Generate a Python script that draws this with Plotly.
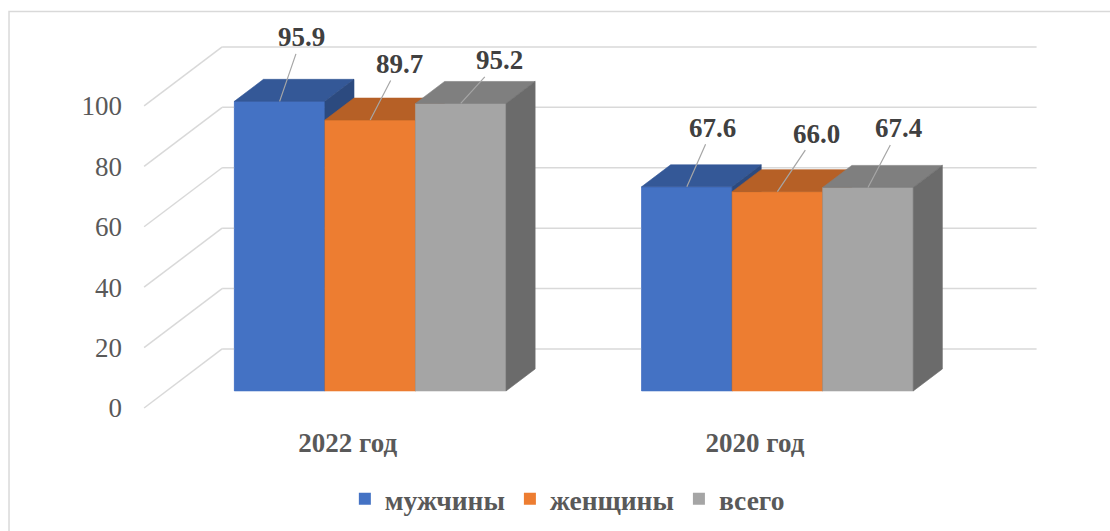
import plotly.graph_objects as go

# ---- data ----
categories = ["2022 год", "2020 год"]
series_names = ["мужчины", "женщины", "всего"]
men = [95.9, 67.6]
women = [89.7, 66.0]
total = [95.2, 67.4]
y_ticks = [0, 20, 40, 60, 80, 100]

series_values = [men, women, total]

# ---- styles ----
front_colors = ["#4472C4", "#ED7D31", "#A5A5A5"]
top_colors = ["#345897", "#B66026", "#7F7F7F"]
side_colors = ["#2C4A7F", "#9A5120", "#6B6B6B"]
grid_color = "#D9D9D9"
serif = "Liberation Serif"

# oblique projection geometry (in axis units)
DX = 0.1916   # full floor depth, x direction
DY = 19.54    # full floor depth, y direction
F0 = 0.288    # depth fraction where bar fronts stand
FB = 0.373    # bar depth fraction
W = 0.2224    # bar width
FLOOR = (-0.5, 1.5)

# label offsets (px) of data labels relative to bar top
label_offsets = [[(22, -64), (26, -59)],
                 [(29, -56), (39, -58)],
                 [(39, -43), (31, -59)]]

fig = go.Figure()

base = F0 * DY
sx, sy = FB * DX, FB * DY

# real bars (front faces) - provide legend
for k, (name, vals) in enumerate(zip(series_names, series_values)):
    xs = [i + F0 * DX + (k - 1) * W for i in range(len(categories))]
    fig.add_trace(go.Bar(x=xs, y=vals, base=base, width=W, name=name,
                         marker=dict(color=front_colors[k], line=dict(width=0)),
                         hoverinfo="skip"))

# grid lines: back wall + left side wall
gx, gy, sxl, syl = [], [], [], []
for v in y_ticks:
    gx += [FLOOR[0] + DX, FLOOR[1] + DX, None]
    gy += [v + DY, v + DY, None]
    sxl += [FLOOR[0], FLOOR[0] + DX, None]
    syl += [v, v + DY, None]
fig.add_trace(go.Scatter(x=gx, y=gy, mode="lines", line=dict(color=grid_color, width=1.5),
                         showlegend=False, hoverinfo="skip"))
fig.add_trace(go.Scatter(x=sxl, y=syl, mode="lines", line=dict(color=grid_color, width=1.5),
                         showlegend=False, hoverinfo="skip"))


def poly(pts, color):
    xs = [p[0] for p in pts] + [pts[0][0]]
    ys = [p[1] for p in pts] + [pts[0][1]]
    fig.add_trace(go.Scatter(x=xs, y=ys, mode="lines", fill="toself", fillcolor=color,
                             line=dict(color=color, width=0.6), showlegend=False,
                             hoverinfo="skip"))


annotations = []
for i in range(len(categories)):
    for k, vals in enumerate(series_values):
        v = vals[i]
        c = i + F0 * DX + (k - 1) * W
        xl, xr = c - W / 2, c + W / 2
        yb, yt = base, base + v
        poly([(xl, yb), (xr, yb), (xr, yt), (xl, yt)], front_colors[k])
        poly([(xl, yt), (xr, yt), (xr + sx, yt + sy), (xl + sx, yt + sy)], top_colors[k])
        poly([(xr, yb), (xr + sx, yb + sy), (xr + sx, yt + sy), (xr, yt)], side_colors[k])
        ox, oy = label_offsets[k][i]
        annotations.append(dict(x=c, y=yt, xref="x", yref="y", text=f"<b>{v:.1f}</b>",
                                showarrow=True, arrowhead=0, arrowwidth=1.2,
                                arrowcolor="#A6A6A6", ax=ox, ay=oy, standoff=0,
                                font=dict(family=serif, size=27, color="#404040")))

fig.update_layout(
    width=1110, height=531,
    margin=dict(l=138, r=70, t=43, b=120, autoexpand=False),
    paper_bgcolor="white", plot_bgcolor="white",
    barmode="overlay",
    annotations=annotations,
    showlegend=True,
    font=dict(family=serif),
    legend=dict(orientation="h", x=0.476, xanchor="center", y=-0.239, yanchor="middle",
                font=dict(family=serif, size=27.5, color="#595959", weight="bold"),
                itemwidth=30, traceorder="normal"),
    xaxis=dict(range=[-0.515, 1.70], tickvals=list(range(len(categories))), ticktext=categories,
               showgrid=False, zeroline=False, showline=False, ticks="",
               tickfont=dict(family=serif, size=27, color="#595959", weight="bold"),
               ticklabelstandoff=13, automargin=False, fixedrange=True),
    yaxis=dict(range=[-1, 120.85], tickvals=y_ticks, showgrid=False, zeroline=False,
               showline=False, ticks="",
               tickfont=dict(family=serif, size=27, color="#595959"),
               ticklabelstandoff=15, automargin=False, fixedrange=True),
    shapes=[dict(type="rect", xref="paper", yref="paper", x0=-0.143, x1=1.3, y0=-0.6, y1=1.0856,
                 line=dict(color="#D9D9D9", width=1.5), fillcolor="rgba(0,0,0,0)", layer="below")],
)

fig.write_html("out.html")
